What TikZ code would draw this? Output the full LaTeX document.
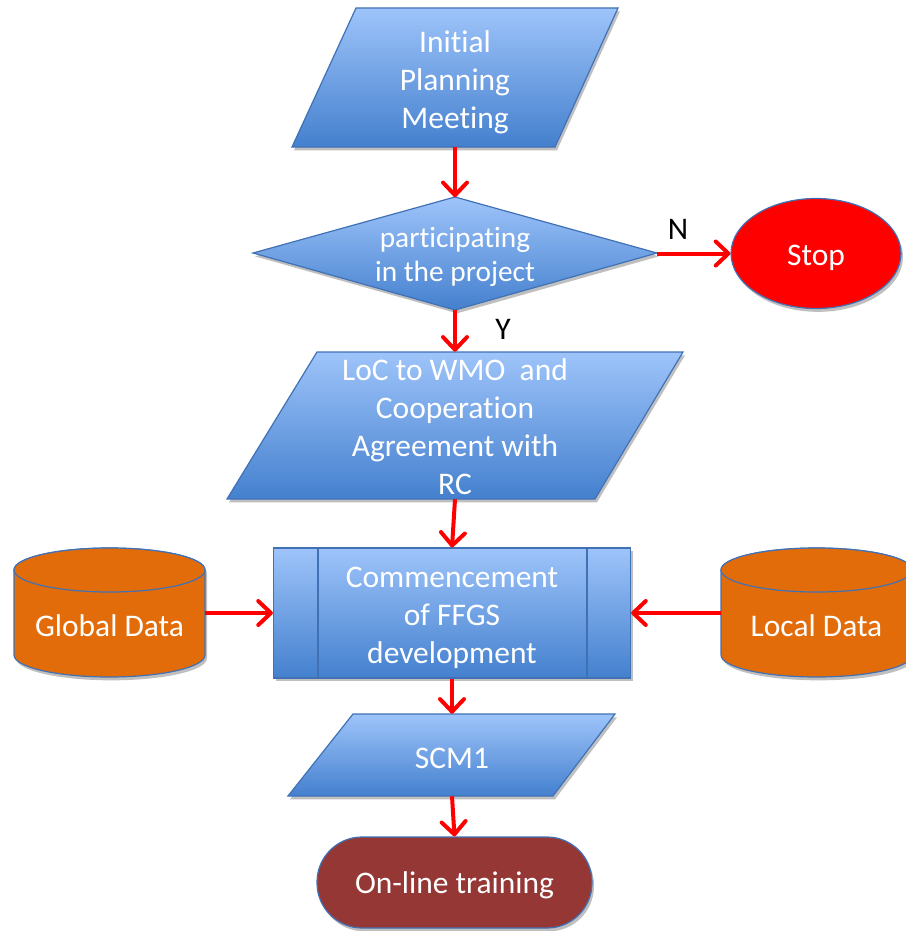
\documentclass[tikz,border=0pt]{standalone}
\usepackage{fontspec}
\setmainfont{Carlito}[Ligatures={NoCommon}]
\usetikzlibrary{arrows.meta,shapes.geometric,shadows}
\definecolor{bluetop}{RGB}{158,196,250}
\definecolor{bluebot}{RGB}{68,128,206}
\definecolor{blueline}{RGB}{65,113,181}
\definecolor{orangefill}{RGB}{227,108,10}
\definecolor{maroonfill}{RGB}{149,55,53}
\tikzset{
  blueshape/.style={top color=bluetop, bottom color=bluebot, draw=blueline, line width=0.9pt},
  shad/.style={drop shadow={opacity=0.25, shadow xshift=1.5pt, shadow yshift=-2.5pt, fill=black}},
  txt/.style={text=white, font=\fontsize{23.6}{28.5}\selectfont, align=center, inner sep=0pt},
  smalltxt/.style={text=white, font=\fontsize{22}{25.5}\selectfont, align=center, inner sep=0pt},
  yn/.style={text=black, font=\fontsize{23.6}{28.5}\selectfont, inner sep=0pt},
  box/.style={inner sep=0pt},
  flow/.style={draw=red, line width=3pt, -{Straight Barb[length=9.5pt,width=18pt,line cap=round,line join=round]}},
  cyl/.style={fill=orangefill, draw=blueline, line width=0.9pt},
}
\begin{document}
\begin{tikzpicture}[x=0.75pt,y=-0.75pt]
\useasboundingbox (0,0) rectangle (906,931);
\clip (0,0) rectangle (906,931);

% Initial Planning Meeting
\path[blueshape, shad] (356,8) -- (618,8) -- (555,147) -- (292,147) -- cycle;
\node[box, minimum width=197pt, minimum height=104.25pt] (p1) at (455,77.5) {};
\node[txt] (p1t) at (455,82) {Initial\\Planning\\Meeting};

% Decision diamond
\path[blueshape, shad] (253,253) -- (455,197) -- (657,253) -- (455,310) -- cycle;
\node[box, minimum width=303pt, minimum height=84pt] (d) at (455,253.5) {};
\node[smalltxt] (dt) at (455,257) {participating\\in the project};

% Stop
\node[ellipse, fill=red, draw=blueline, line width=0.9pt, shad, minimum width=127.5pt, minimum height=82.5pt, inner sep=0pt] (stop) at (816,253.5) {};
\node[txt] (stopt) at (816,257.5) {Stop};

% LoC
\path[blueshape, shad] (317,352) -- (683,352) -- (595,499) -- (227,499) -- cycle;
\node[box, minimum width=275pt, minimum height=110.25pt] (loc) at (455,425.5) {};
\node[txt] (loct) at (455,427) {LoC to WMO\ \ and\\Cooperation\\Agreement with\\RC};

% Predefined process
\node[blueshape, shad, minimum width=267.75pt, minimum height=97.5pt, inner sep=0pt] (pp) at (452,613) {};
\draw[blueline, line width=0.9pt] (318,548) -- (318,678) (587,548) -- (587,678);
\node[txt] (ppt) at (452,618) {Commencement\\of FFGS\\development};

% Global Data cylinder
\path[cyl, shad] (14,570) -- (14,655) arc[start angle=180, end angle=360, x radius=71.625pt, y radius=16.5pt] -- (205,570) arc[start angle=0, end angle=180, x radius=71.625pt, y radius=16.5pt] -- cycle;
\draw[cyl] (109.5,570) ellipse[x radius=71.625pt, y radius=16.5pt];
\node[box, minimum width=143.25pt, minimum height=60pt] (gd) at (109.5,625) {};
\node[txt] (gdt) at (109.5,626) {Global Data};

% Local Data cylinder
\path[cyl, shad] (721,570) -- (721,655) arc[start angle=180, end angle=360, x radius=71.625pt, y radius=16.5pt] -- (912,570) arc[start angle=0, end angle=180, x radius=71.625pt, y radius=16.5pt] -- cycle;
\draw[cyl] (816.5,570) ellipse[x radius=71.625pt, y radius=16.5pt];
\node[box, minimum width=143.25pt, minimum height=60pt] (ld) at (816.5,625) {};
\node[txt] (ldt) at (816.5,626) {Local Data};

% SCM1
\path[blueshape, shad] (353,714) -- (615,714) -- (553,796) -- (288,796) -- cycle;
\node[box, minimum width=196pt, minimum height=61.5pt] (scm) at (452,755) {};
\node[txt] (scmt) at (452,758) {SCM1};

% On-line training
\node[rounded corners=33.75pt, fill=maroonfill, draw=blueline, line width=0.9pt, shad, minimum width=206.25pt, minimum height=68.25pt, inner sep=0pt] (ot) at (454.5,882.5) {};
\node[txt] (ott) at (454.5,885) {On-line training};

% Labels
\node[yn] (nlab) at (678,229) {N};
\node[yn] (ylab) at (503,329) {Y};

% Connectors
\draw[flow] (p1.south) -- (d.north);
\draw[flow] (d.east) -- (stop.west);
\draw[flow] (d.south) -- (loc.north);
\draw[flow] (loc.south) -- (pp.north);
\draw[flow] (gd.east |- pp.west) -- (pp.west);
\draw[flow] (ld.west |- pp.east) -- (pp.east);
\draw[flow] (pp.south) -- (scm.north);
\draw[flow] (scm.south) -- (ot.north);
\end{tikzpicture}
\end{document}
